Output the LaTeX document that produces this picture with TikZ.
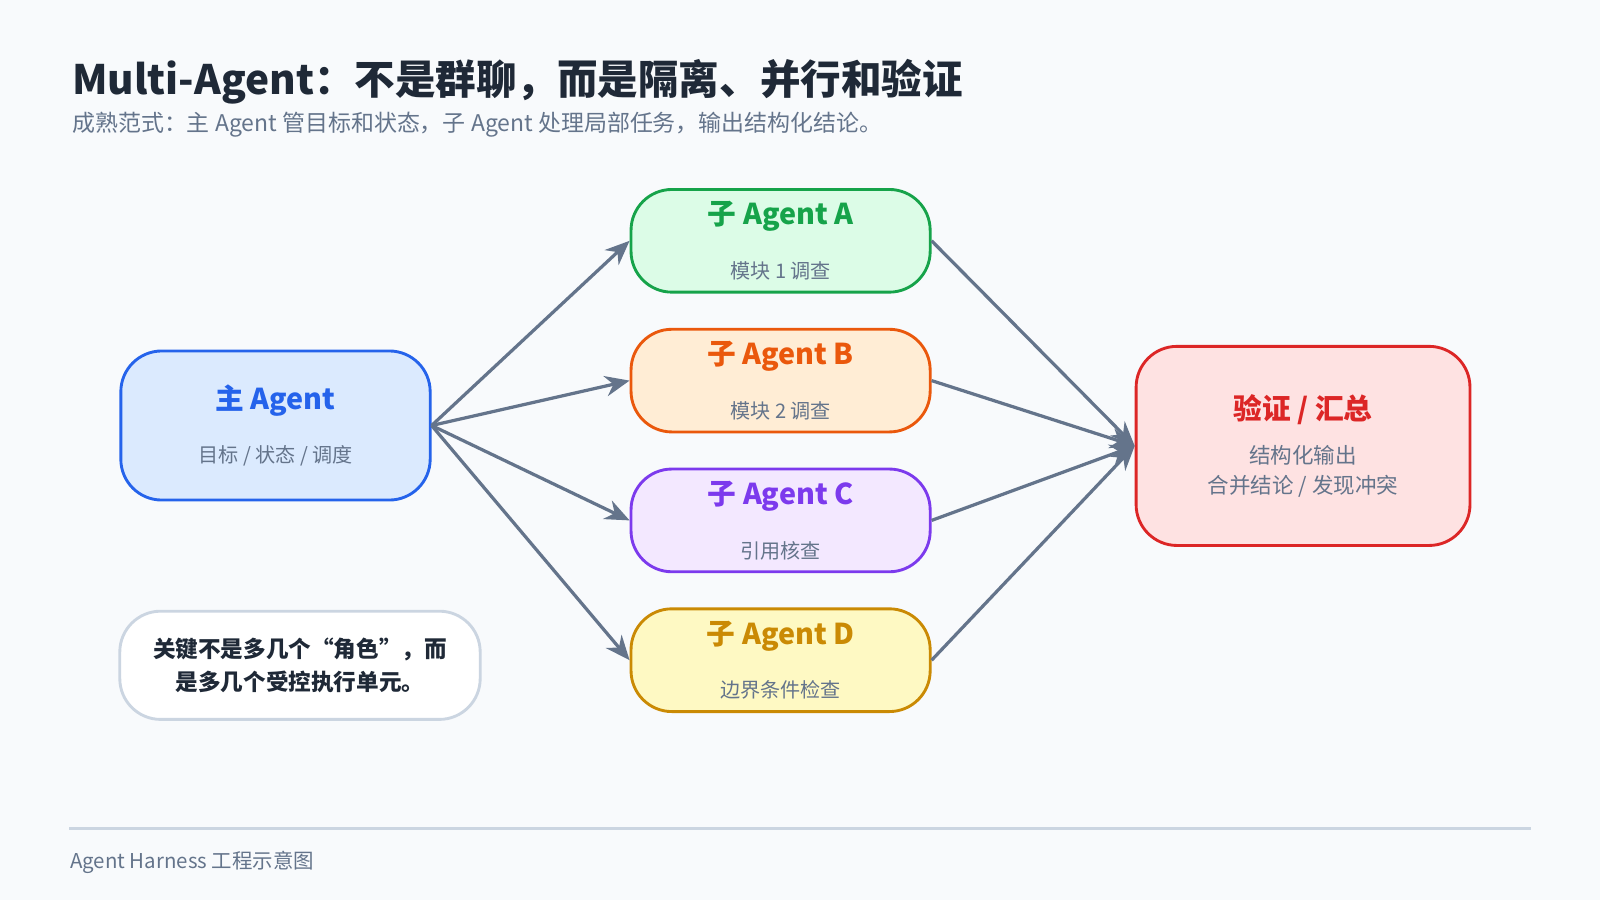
\documentclass[tikz,border=0pt]{standalone}
\usepackage{fontspec}
\setmainfont{Noto Sans CJK SC}
\usetikzlibrary{arrows.meta}
\definecolor{ink}{HTML}{1F2937}
\definecolor{muted}{HTML}{64748B}
\definecolor{rule}{HTML}{CBD5E1}
\definecolor{page}{HTML}{F8FAFC}
\definecolor{blueline}{HTML}{2563EB}\definecolor{bluefill}{HTML}{DBEAFE}
\definecolor{greenline}{HTML}{16A34A}\definecolor{greenfill}{HTML}{DCFCE7}
\definecolor{orangeline}{HTML}{EA580C}\definecolor{orangefill}{HTML}{FFEDD5}
\definecolor{purpleline}{HTML}{7C3AED}\definecolor{purplefill}{HTML}{F3E8FF}
\definecolor{yellowline}{HTML}{CA8A04}\definecolor{yellowfill}{HTML}{FEF9C3}
\definecolor{redline}{HTML}{DC2626}\definecolor{redfill}{HTML}{FEE2E2}
\tikzset{
  box/.style={draw, line width=0.8pt, rounded corners=4mm, minimum width=2.93cm, minimum height=0.97cm, align=center},
  flow/.style={draw=muted, line width=0.9pt, -{Stealth[length=2.4mm,width=2mm]}},
}
\newcommand{\boxtext}[3]{{\fontsize{8}{10}\selectfont\bfseries\color{#1}#2}\\[3pt]{\fontsize{5.6}{7}\selectfont\color{muted}#3}}
\begin{document}
\begin{tikzpicture}[x=0.01cm,y=-0.01cm]
  \fill[page] (0,0) rectangle (1568,882);
  \useasboundingbox (0,0) rectangle (1568,882);
  % heading
  \node[anchor=west, inner sep=0pt, text=ink, font=\fontsize{11.3}{14}\selectfont\bfseries] (title) at (70,80) {Multi-Agent：不是群聊，而是隔离、并行和验证};
  \node[anchor=west, inner sep=0pt, text=muted, font=\fontsize{6.4}{8}\selectfont] (subtitle) at (70,122) {成熟范式：主 Agent 管目标和状态，子 Agent 处理局部任务，输出结构化结论。};
  % boxes
  \node[box, fill=bluefill, draw=blueline, minimum width=3.03cm, minimum height=1.46cm] (main) at (270,417) {\boxtext{blueline}{主 Agent}{目标 / 状态 / 调度}};
  \node[box, fill=greenfill, draw=greenline] (A) at (765,236) {\boxtext{greenline}{子 Agent A}{模块 1 调查}};
  \node[box, fill=orangefill, draw=orangeline] (B) at (765,373) {\boxtext{orangeline}{子 Agent B}{模块 2 调查}};
  \node[box, fill=purplefill, draw=purpleline] (C) at (765,510) {\boxtext{purpleline}{子 Agent C}{引用核查}};
  \node[box, fill=yellowfill, draw=yellowline] (D) at (765,647) {\boxtext{yellowline}{子 Agent D}{边界条件检查}};
  \node[box, fill=redfill, draw=redline, minimum width=3.27cm, minimum height=1.95cm, font=\fontsize{6}{8.4}\selectfont, text=muted] (check) at (1277,437) {{\fontsize{8}{10}\selectfont\bfseries\color{redline}验证 / 汇总}\\[4pt]结构化输出\\合并结论 / 发现冲突};
  \node[box, fill=white, draw=rule, minimum width=3.53cm, minimum height=1.06cm, text=ink, font=\fontsize{6.3}{9}\selectfont\bfseries] (note) at (294,652) {关键不是多几个“角色”，而\\是多几个受控执行单元。};
  % connectors
  \draw[flow] (main.east) -- (A.west);
  \draw[flow] (main.east) -- (B.west);
  \draw[flow] (main.east) -- (C.west);
  \draw[flow] (main.east) -- (D.west);
  \draw[flow] (A.east) -- (check.west);
  \draw[flow] (B.east) -- (check.west);
  \draw[flow] (C.east) -- (check.west);
  \draw[flow] (D.east) -- (check.west);
  % footer
  \draw[rule, line width=0.6pt] (68,812) -- (1500,812);
  \node[anchor=west, inner sep=0pt, text=muted, font=\fontsize{5.7}{7}\selectfont] (footer) at (68,845) {Agent Harness 工程示意图};
\end{tikzpicture}
\end{document}
